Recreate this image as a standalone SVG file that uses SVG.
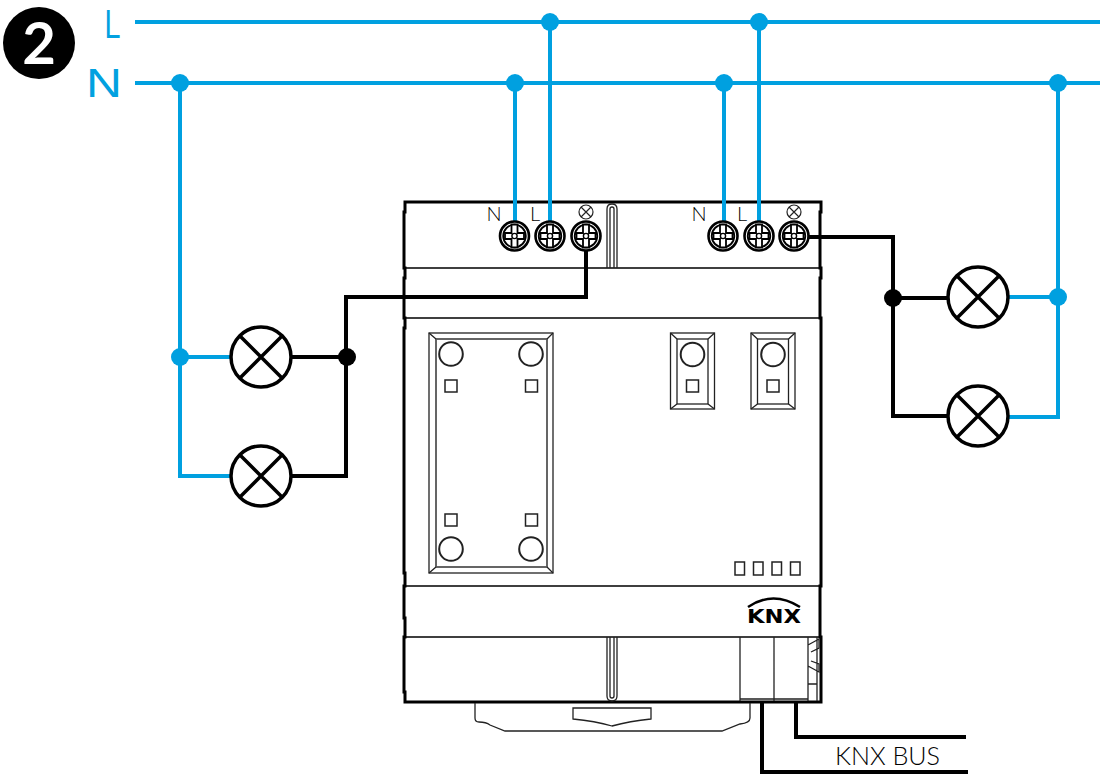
<svg xmlns="http://www.w3.org/2000/svg" width="1111" height="784" viewBox="0 0 1111 784">
<style>
.bw{fill:none;stroke:#00a0e0;stroke-width:4}
.kw{fill:none;stroke:#000;stroke-width:4}
.bd{fill:#00a0e0}
.kd{fill:#000}
.th{fill:none;stroke:#000;stroke-width:1.6}
.md{fill:none;stroke:#222;stroke-width:1.3}
.ol{fill:none;stroke:#000;stroke-width:3}
.lamp{fill:#fff;stroke:#000;stroke-width:3.5}
.lx{stroke:#000;stroke-width:3.5}
.btn{fill:none;stroke:#222;stroke-width:2}
.sq{fill:none;stroke:#222;stroke-width:1.5}
.t{font-family:"Lato","Liberation Sans",sans-serif;font-weight:300;opacity:.99}
.big{font-family:"Liberation Sans",sans-serif;font-size:41px;fill:#00a0e0;opacity:.99}
</style>
<defs>
<g id="term">
<circle r="14.500" fill="#fff" stroke="#000" stroke-width="2.600"/>
<circle r="11.300" fill="none" stroke="#000" stroke-width="1.800"/>
<path d="M-3-11.500V-3H-9.500V3H-3V11.500H3V3H9.500V-3H3V-11.500Z" fill="#fff" stroke="#000" stroke-width="1.800"/>
<circle r="2.600" fill="#fff" stroke="#000" stroke-width="1.400"/>
</g>
<g id="lamp">
<circle r="30" class="lamp"/>
<path d="M-21-21L21 21M21-21L-21 21" class="lx"/>
</g>
<g id="mini">
<circle r="7" fill="#fff" stroke="#222" stroke-width="1.200"/>
<path d="M-5-5L5 5M5-5L-5 5" stroke="#222" stroke-width="1.200"/>
</g>
<g id="smallpanel">
<rect x="0" y="0" width="44" height="76" class="md"/>
<rect x="6.500" y="6" width="31" height="65" class="md"/>
<path d="M0 0L6.500 6M44 0L37.500 6M0 76L6.500 71M44 76L37.500 71" class="md"/>
<circle cx="22" cy="21.500" r="11.800" class="btn"/>
<rect x="16" y="47" width="12" height="12" class="sq"/>
</g>
</defs>

<g id="device">
<path class="ol" d="M405 202H821V212H820V268H821V278H820V318H821V586H820V637H821V702H405V692H404V637H405V618H404V586H405V573H404V328H405V318H404V278H405V268H404V212H405Z"/>
<path class="th" d="M404 268H820M404 318H820M404 586H820M404 637H820"/>
<path class="md" d="M607 268V209Q607 204 612 204Q617 204 617 209V268M610 268V209Q610 207 612 207Q614 207 614 209V268"/>
<path class="md" d="M607 637V696Q607 701 612 701Q617 701 617 696V637M610 637V696Q610 698 612 698Q614 698 614 696V637"/>
<path class="md" d="M475 703V718Q475 722 479 722Q486 722 490 725L505 731H722L740 724Q750 723 750 718V703"/>
<path class="md" d="M573 708H651V719Q630 721 612 726Q595 721 573 719Z"/>
<path class="md" d="M740 637V701M774 637V701M808 637V701M740 699H808M817 637V701M808 645L819 639V648L811 652M808 666L819 672V664L811 661M808 684H817"/>
</g>

<g id="panel-main">
<rect x="429" y="333" width="124" height="240" class="md"/>
<rect x="436" y="339" width="111" height="228" fill="none" stroke="#555" stroke-width="1.800"/>
<path d="M429 333L436 339M553 333L547 339M429 573L436 567M553 573L547 567" class="md"/>
<circle cx="451" cy="354" r="11.800" class="btn"/>
<circle cx="531" cy="354" r="11.800" class="btn"/>
<circle cx="451" cy="549" r="11.800" class="btn"/>
<circle cx="531" cy="549" r="11.800" class="btn"/>
<rect x="445" y="380" width="12" height="12" class="sq"/>
<rect x="525.500" y="380" width="12" height="12" class="sq"/>
<rect x="445" y="514" width="12" height="12" class="sq"/>
<rect x="525.500" y="514" width="12" height="12" class="sq"/>
</g>
<use id="panel-a" href="#smallpanel" x="670.500" y="333"/>
<use id="panel-b" href="#smallpanel" x="751" y="333"/>
<g id="leds">
<rect x="735" y="562" width="9.500" height="13" class="sq"/>
<rect x="753.500" y="562" width="9.500" height="13" class="sq"/>
<rect x="772" y="562" width="9.500" height="13" class="sq"/>
<rect x="790.500" y="562" width="9.500" height="13" class="sq"/>
</g>
<g id="knx-logo">
<path d="M748 607Q773 590 800 607" fill="none" stroke="#000" stroke-width="2.500"/>
<text x="747" y="623" font-family="'DejaVu Sans',sans-serif" font-weight="700" font-size="19.500" textLength="54" lengthAdjust="spacingAndGlyphs">KNX</text>
</g>

<g id="connectors">
<path class="bw" d="M135 22H1100M135 83H1100"/>
<path class="bw" d="M180 83V476H232M180 357H232M515 83V224M550 22V224M724 83V224M759 22V224M1058 83V417H1008M1058 297H1008"/>
<path class="kw" d="M290 357H347M290 476H346V297H586V248M806 237H893V416H949M893 298H949M762 703V772H968M796 703V737H966"/>
<circle cx="550" cy="22" r="9" class="bd"/>
<circle cx="759" cy="22" r="9" class="bd"/>
<circle cx="180" cy="83" r="9" class="bd"/>
<circle cx="515" cy="83" r="9" class="bd"/>
<circle cx="724" cy="83" r="9" class="bd"/>
<circle cx="1058" cy="83" r="9" class="bd"/>
<circle cx="180" cy="357" r="9" class="bd"/>
<circle cx="1058" cy="297" r="9" class="bd"/>
<circle cx="347" cy="357" r="9" class="kd"/>
<circle cx="893" cy="298" r="9" class="kd"/>
</g>

<g id="terminals">
<use href="#term" x="514.500" y="236"/>
<use href="#term" x="550" y="236"/>
<use href="#term" x="586" y="236"/>
<use href="#term" x="723" y="236"/>
<use href="#term" x="759" y="236"/>
<use href="#term" x="794" y="236"/>
<use href="#mini" x="586" y="212"/>
<use href="#mini" x="794" y="212"/>
<text class="t" x="486.500" y="221" font-size="20" fill="#000">N</text>
<text class="t" x="530" y="221" font-size="20" fill="#000">L</text>
<text class="t" x="691.500" y="221" font-size="20" fill="#000">N</text>
<text class="t" x="737" y="221" font-size="20" fill="#000">L</text>
</g>

<use id="lamp-1" href="#lamp" x="261" y="357"/>
<use id="lamp-2" href="#lamp" x="261" y="476"/>
<use id="lamp-3" href="#lamp" x="978" y="297"/>
<use id="lamp-4" href="#lamp" x="978" y="416"/>

<g id="badge">
<circle cx="39" cy="43" r="36" fill="#000"/>
<text x="39" y="64" text-anchor="middle" font-family="'Lato','Liberation Sans',sans-serif" font-weight="700" font-size="58" fill="#fff">2</text>
</g>
<g id="line-labels">
<text class="big" x="104.500" y="37.500" textLength="16" lengthAdjust="spacingAndGlyphs">L</text>
<text class="big" x="86" y="96.500" textLength="36" lengthAdjust="spacingAndGlyphs">N</text>
</g>
<text id="bus-label" class="t" x="835" y="765" font-size="26" fill="#000" textLength="105" lengthAdjust="spacingAndGlyphs">KNX BUS</text>
</svg>
